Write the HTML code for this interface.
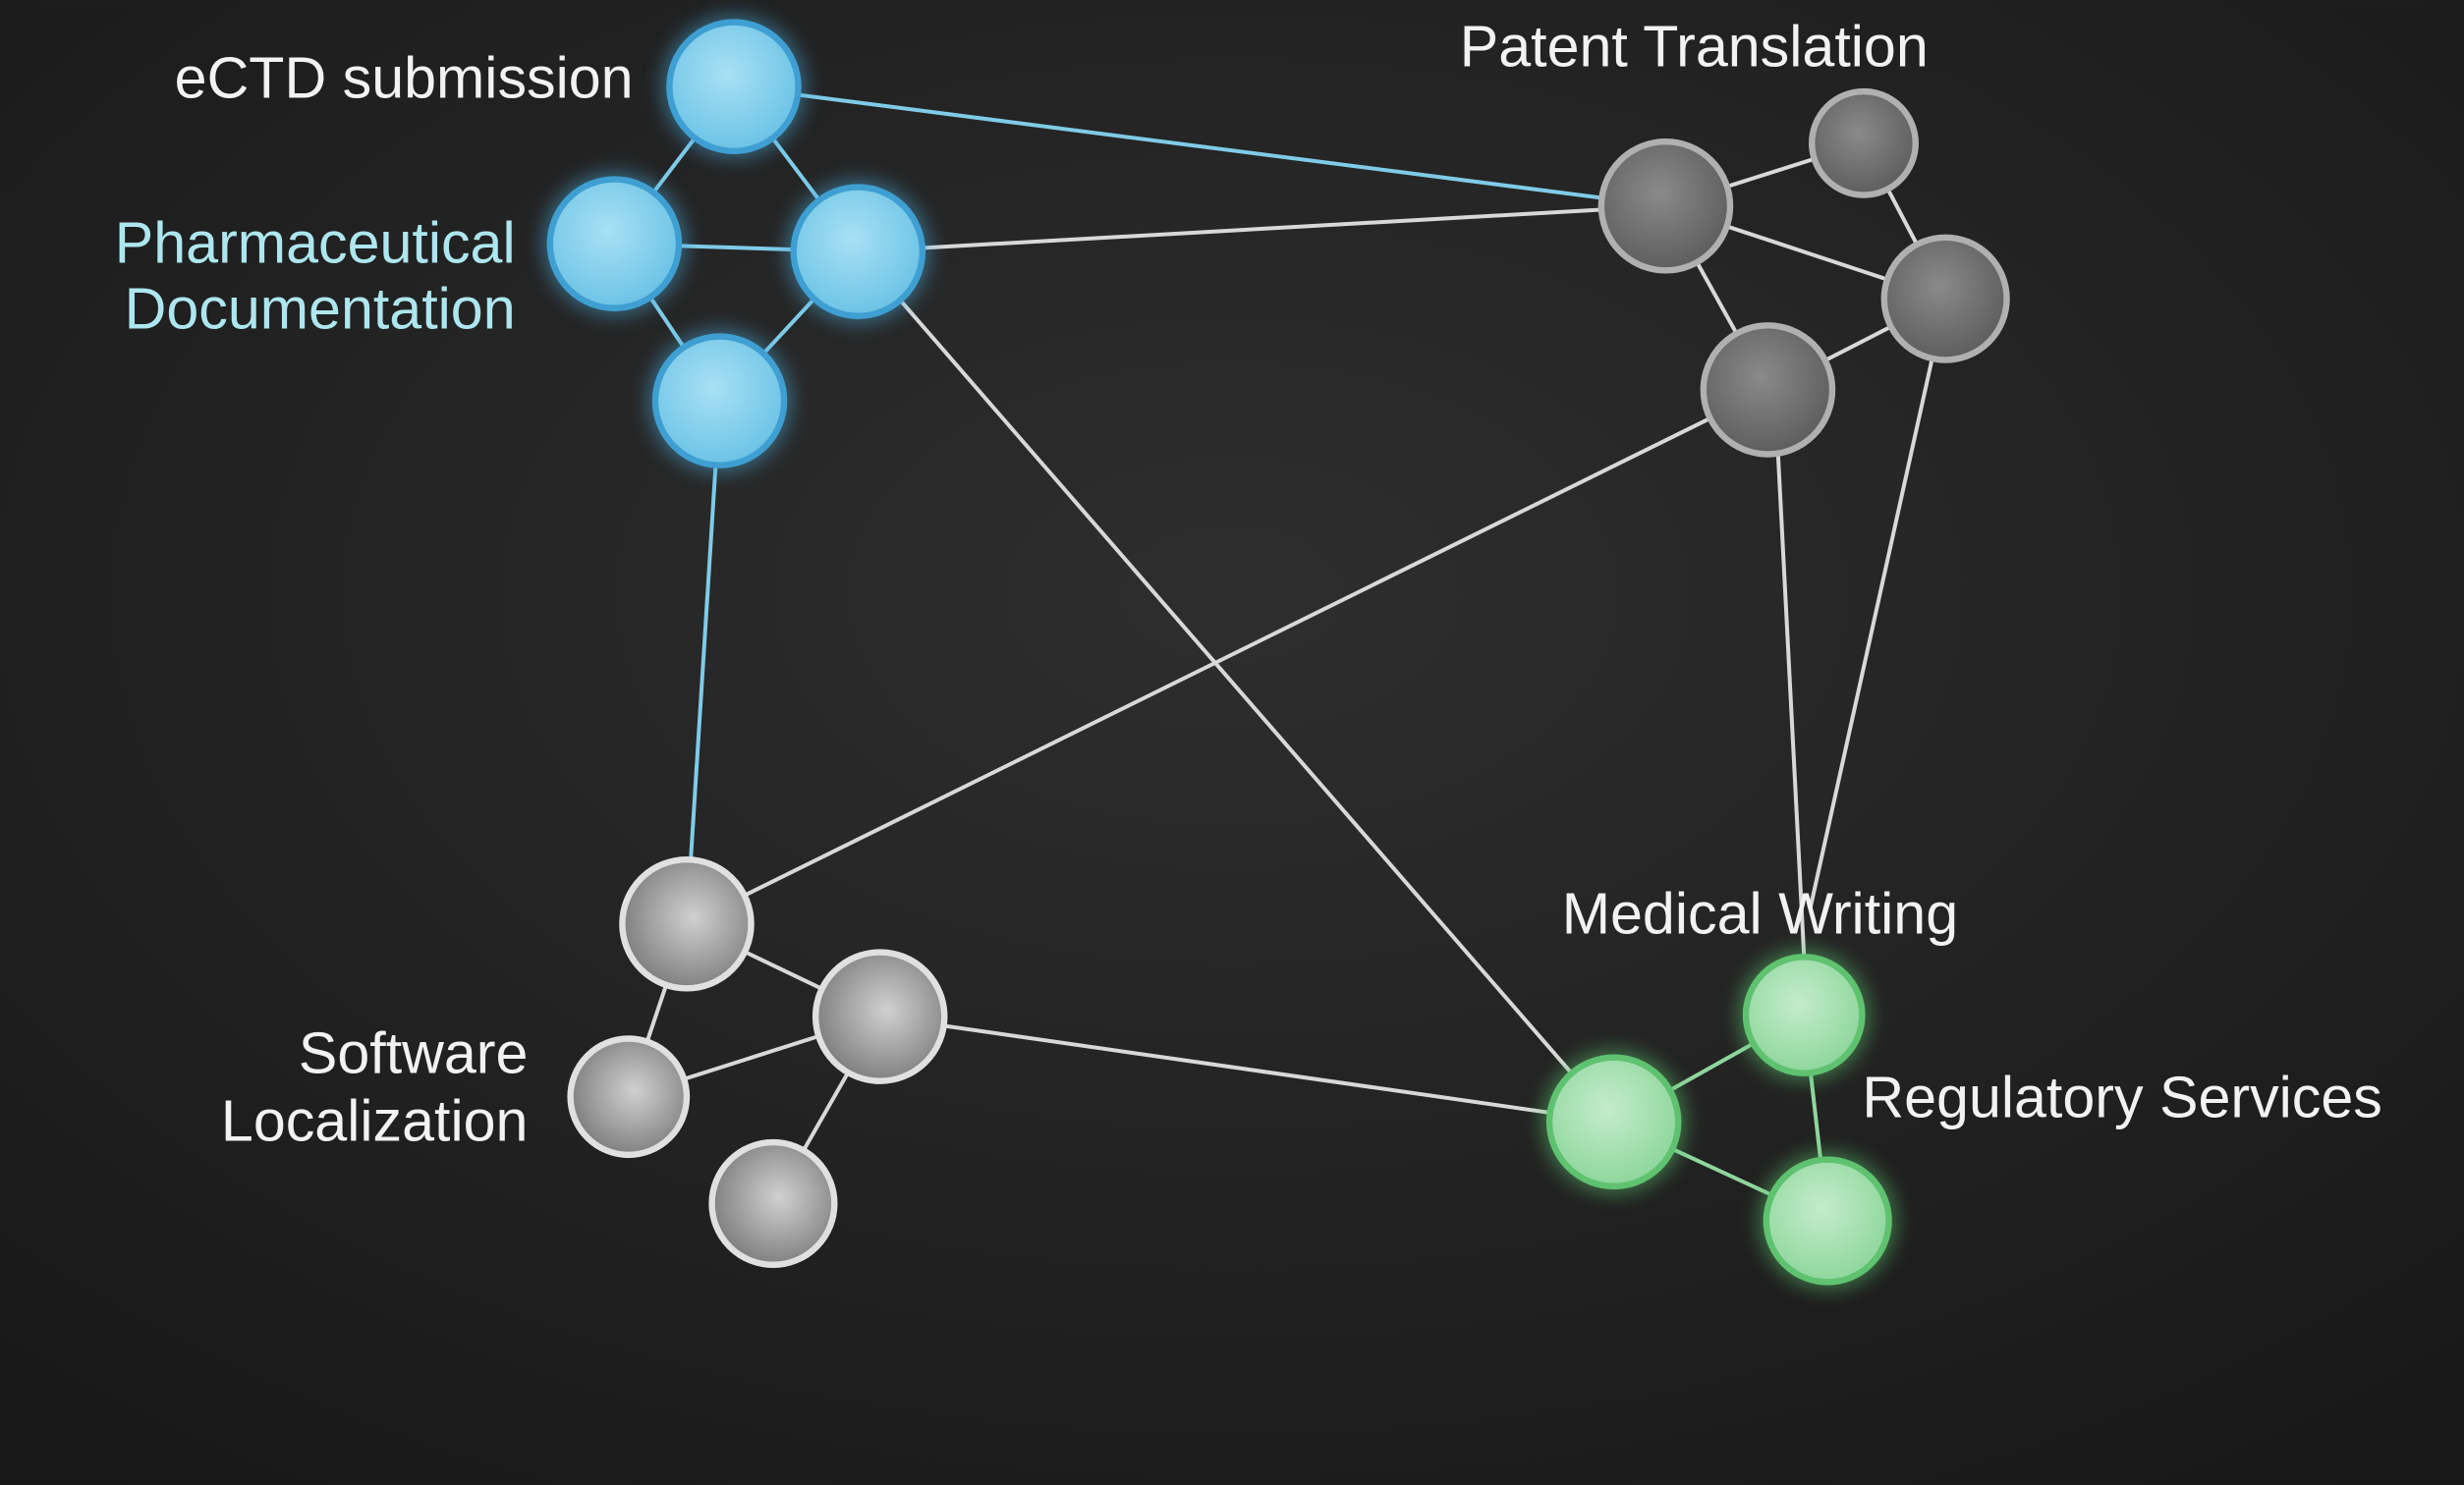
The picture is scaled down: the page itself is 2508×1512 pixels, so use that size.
<!DOCTYPE html>
<html><head><meta charset="utf-8"><style>
html,body{margin:0;padding:0;background:#222;}
svg{display:block;}
text{font-family:"Liberation Sans",sans-serif;font-size:37px;}
</style></head><body>
<svg width="2508" height="1512" viewBox="0 0 1568 945" xmlns="http://www.w3.org/2000/svg">
<defs>
<radialGradient id="bg" cx="50%" cy="40%" r="75%">
<stop offset="0" stop-color="#2e2e2e"/><stop offset="1" stop-color="#181818"/>
</radialGradient>
<radialGradient id="gb" cx="45%" cy="40%" r="60%"><stop offset="0" stop-color="#a8e0f4"/><stop offset="1" stop-color="#6cc3e6"/></radialGradient>
<radialGradient id="gg" cx="45%" cy="40%" r="60%"><stop offset="0" stop-color="#c4eccb"/><stop offset="1" stop-color="#8fd69d"/></radialGradient>
<radialGradient id="gd" cx="45%" cy="40%" r="60%"><stop offset="0" stop-color="#8a8a8a"/><stop offset="1" stop-color="#5e5e5e"/></radialGradient>
<radialGradient id="gl" cx="55%" cy="45%" r="60%"><stop offset="0" stop-color="#d0d0d0"/><stop offset="1" stop-color="#7a7a7a"/></radialGradient>
<filter id="glow" x="-50%" y="-50%" width="200%" height="200%"><feGaussianBlur stdDeviation="6"/></filter>
</defs>
<rect width="1568" height="945" fill="url(#bg)"/>
<g stroke-width="2.5" fill="none">
<g stroke="#7fcbe8">
<line x1="467" y1="55" x2="391" y2="155"/><line x1="467" y1="55" x2="546" y2="160"/>
<line x1="391" y1="155" x2="546" y2="160"/><line x1="391" y1="155" x2="458" y2="255"/>
<line x1="546" y1="160" x2="458" y2="255"/><line x1="467" y1="55" x2="1060" y2="131"/>
<line x1="458" y1="255" x2="437" y2="588"/>
</g>
<g stroke="#d8d8d8">
<line x1="546" y1="160" x2="1060" y2="131"/>
<line x1="1060" y1="131" x2="1186" y2="91"/><line x1="1060" y1="131" x2="1238" y2="190"/>
<line x1="1186" y1="91" x2="1238" y2="190"/><line x1="1060" y1="131" x2="1125" y2="248"/>
<line x1="1125" y1="248" x2="1238" y2="190"/>
<line x1="546" y1="160" x2="1027" y2="714"/>
<line x1="1125" y1="248" x2="437" y2="588"/>
<line x1="1130" y1="260" x2="1148" y2="608"/>
<line x1="1238" y1="190" x2="1152" y2="578"/>
<line x1="437" y1="588" x2="560" y2="647"/><line x1="437" y1="588" x2="400" y2="698"/>
<line x1="560" y1="647" x2="400" y2="698"/><line x1="560" y1="647" x2="492" y2="766"/>
<line x1="560" y1="647" x2="1027" y2="714"/>
</g>
<g stroke="#8fd69d">
<line x1="1027" y1="714" x2="1148" y2="646"/><line x1="1027" y1="714" x2="1163" y2="777"/>
<line x1="1148" y1="646" x2="1163" y2="777"/>
</g>
</g>
<g>
<g fill="#4aa8d8" opacity="0.5" filter="url(#glow)">
<circle cx="467" cy="55" r="46"/><circle cx="391" cy="155" r="46"/><circle cx="546" cy="160" r="46"/><circle cx="458" cy="255" r="46"/>
</g>
<g fill="#5cc46e" opacity="0.5" filter="url(#glow)">
<circle cx="1027" cy="714" r="46"/><circle cx="1148" cy="646" r="42"/><circle cx="1163" cy="777" r="44"/>
</g>
<g fill="url(#gb)" stroke="#3f9fd2" stroke-width="4">
<circle cx="467" cy="55" r="41"/><circle cx="391" cy="155" r="41"/><circle cx="546" cy="160" r="41"/><circle cx="458" cy="255" r="41"/>
</g>
<g fill="url(#gg)" stroke="#5fc270" stroke-width="4">
<circle cx="1027" cy="714" r="41"/><circle cx="1148" cy="646" r="37"/><circle cx="1163" cy="777" r="39"/>
</g>
<g fill="url(#gd)" stroke="#b0b0b0" stroke-width="4">
<circle cx="1060" cy="131" r="41"/><circle cx="1186" cy="91" r="33"/><circle cx="1238" cy="190" r="39"/><circle cx="1125" cy="248" r="41"/>
</g>
<g fill="url(#gl)" stroke="#e0e0e0" stroke-width="4">
<circle cx="437" cy="588" r="41"/><circle cx="560" cy="647" r="41"/><circle cx="400" cy="698" r="37"/><circle cx="492" cy="766" r="39"/>
</g>
</g>
<g fill="#f2f2f2">
<text x="403" y="62" text-anchor="end">eCTD submission</text>
<text x="1078" y="42" text-anchor="middle">Patent Translation</text>
<text x="1120" y="594" text-anchor="middle">Medical Writing</text>
<text x="1185" y="711">Regulatory Services</text>
<text x="336" y="683" text-anchor="end">Software</text>
<text x="336" y="726" text-anchor="end">Localization</text>
</g>
<g fill="#aee6ef">
<text x="328" y="167" text-anchor="end">Pharmaceutical</text>
<text x="328" y="209" text-anchor="end">Documentation</text>
</g>
</svg>
</body></html>
